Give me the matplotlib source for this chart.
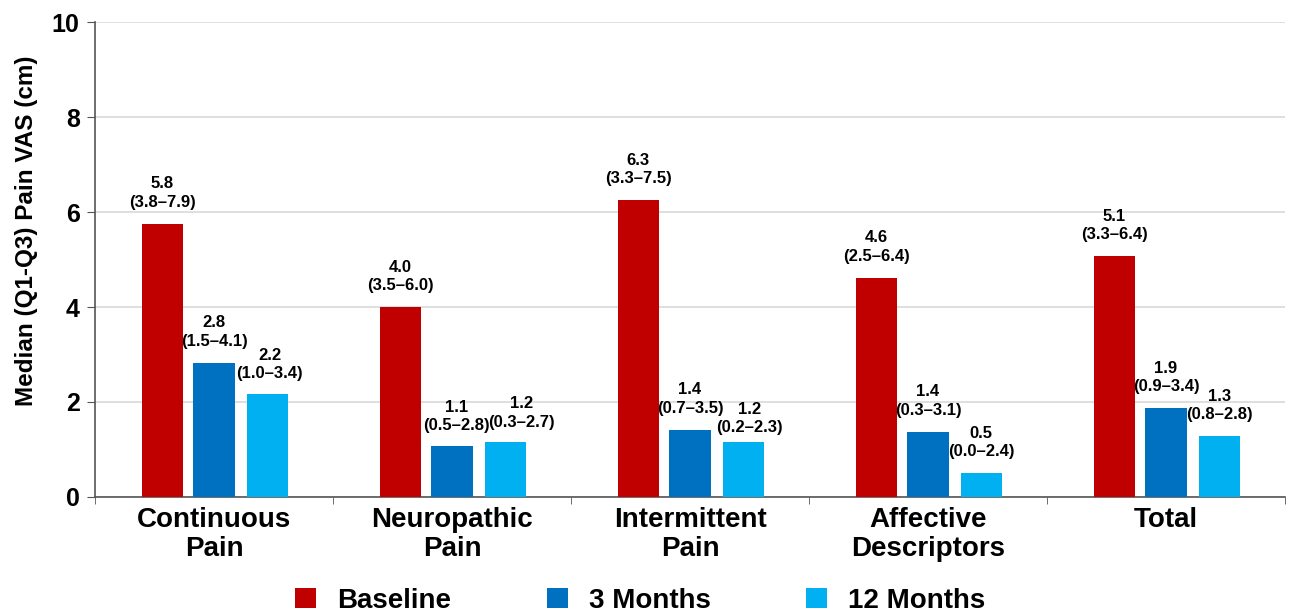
import numpy as np
import matplotlib.pyplot as plt
from matplotlib.patches import Patch
from matplotlib.ticker import FixedLocator

plt.rcParams['font.family'] = ['Liberation Sans', 'DejaVu Sans']

categories = ['Continuous\nPain', 'Neuropathic\nPain', 'Intermittent\nPain',
              'Affective\nDescriptors', 'Total']
series = ['Baseline', '3 Months', '12 Months']

# bar heights
baseline = [5.75, 4.0, 6.25, 4.62, 5.07]
months3 = [2.83, 1.08, 1.42, 1.37, 1.87]
months12 = [2.17, 1.15, 1.15, 0.5, 1.28]

# printed labels
baseline_lbl = ['5.8\n(3.8\u20137.9)', '4.0\n(3.5\u20136.0)', '6.3\n(3.3\u20137.5)',
                '4.6\n(2.5\u20136.4)', '5.1\n(3.3\u20136.4)']
months3_lbl = ['2.8\n(1.5\u20134.1)', '1.1\n(0.5\u20132.8)', '1.4\n(0.7\u20133.5)',
               '1.4\n(0.3\u20133.1)', '1.9\n(0.9\u20133.4)']
months12_lbl = ['2.2\n(1.0\u20133.4)', '1.2\n(0.3\u20132.7)', '1.2\n(0.2\u20132.3)',
                '0.5\n(0.0\u20132.4)', '1.3\n(0.8\u20132.8)']

colors = ['#C00000', '#0070C0', '#00B0F0']

fig = plt.figure(figsize=(12.91, 6.14), dpi=100)
ax = fig.add_axes([0.0736, 0.1906, 0.9218, 0.7734])

x = np.arange(len(categories))
offsets = [-0.218, 0.0, 0.223]
width = 0.173

# small sideways / vertical nudges (points) so neighbouring labels don't collide
nudge = {(1, 1): (3, 9), (2, 1): (11.5, 9), (2, 2): (4.5, 5), (2, 0): (2, 9)}

for si, (vals, lbls, col, off) in enumerate(zip([baseline, months3, months12],
                                                [baseline_lbl, months3_lbl, months12_lbl],
                                                colors, offsets)):
    ax.bar(x + off, vals, width, color=col, zorder=3)
    for ci, (xi, v, t) in enumerate(zip(x + off, vals, lbls)):
        dx, dy = nudge.get((si, ci), (0, 10))
        ax.annotate(t, (xi, v), xytext=(dx, dy), textcoords='offset points',
                    ha='center', va='bottom', fontsize=12, fontweight='bold',
                    linespacing=1.3)

ax.set_xlim(-0.5, len(categories) - 0.5)
ax.set_ylim(0, 10)
ax.set_yticks([0, 2, 4, 6, 8, 10])
ax.yaxis.grid(True, color='#d9d9d9', linewidth=1.2, zorder=0)
ax.set_axisbelow(True)

ax.set_xticks(x)
ax.set_xticklabels(categories, fontsize=20, fontweight='bold', linespacing=1.15)
ax.tick_params(axis='x', which='major', length=0, pad=7)
ax.xaxis.set_minor_locator(FixedLocator(np.arange(-0.5, len(categories), 1.0)))
ax.tick_params(axis='x', which='minor', length=5, direction='out', color='#555555')
ax.tick_params(axis='y', labelsize=18, length=6, color='#555555', pad=5)
for lbl in ax.get_yticklabels():
    lbl.set_fontweight('bold')

ax.set_ylabel('Median (Q1-Q3) Pain VAS (cm)', fontsize=17.5, fontweight='bold')
ax.yaxis.set_label_coords(-0.048, 0.56)

for s in ['top', 'right']:
    ax.spines[s].set_visible(False)
for s in ['left', 'bottom']:
    ax.spines[s].set_color('#555555')
    ax.spines[s].set_linewidth(1.2)

handles = [Patch(facecolor=c, label=s) for c, s in zip(colors, series)]
fig.legend(handles=handles, loc='lower center', bbox_to_anchor=(0.496, -0.04), ncol=3,
           frameon=False, handlelength=0.75, handleheight=0.75, columnspacing=3.45,
           handletextpad=0.75,
           prop={'weight': 'bold', 'size': 20})

fig.savefig('out.png', dpi=100)
